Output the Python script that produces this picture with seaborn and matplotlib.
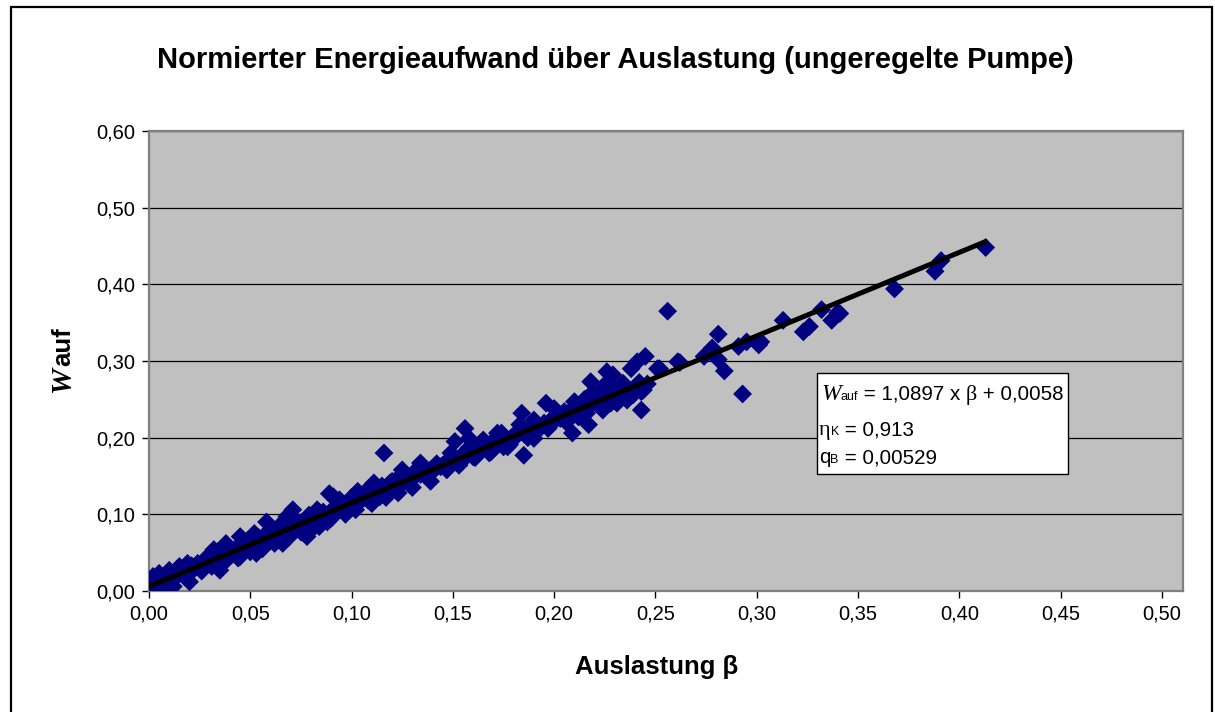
import numpy as np
import pandas as pd
import matplotlib
matplotlib.use("Agg")
import matplotlib.pyplot as plt
import seaborn as sns
from matplotlib.patches import Rectangle

# Messpunkte: Auslastung beta und normierter Energieaufwand W_auf
beta = [
    0.000, 0.002, 0.004, 0.005, 0.008, 0.010, 0.010, 0.012, 0.014, 0.015, 0.017, 0.019,
    0.020, 0.022, 0.024, 0.025, 0.027, 0.029, 0.030, 0.032, 0.033, 0.035, 0.036, 0.038,
    0.039, 0.041, 0.043, 0.045, 0.045, 0.047, 0.049, 0.052, 0.052, 0.053, 0.055, 0.057,
    0.058, 0.060, 0.061, 0.063, 0.065, 0.066, 0.067, 0.068, 0.070, 0.071, 0.072, 0.075,
    0.075, 0.077, 0.078, 0.080, 0.082, 0.083, 0.084, 0.085, 0.087, 0.089, 0.089, 0.090,
    0.091, 0.092, 0.093, 0.094, 0.096, 0.098, 0.099, 0.101, 0.103, 0.104, 0.104, 0.106,
    0.108, 0.109, 0.111, 0.111, 0.113, 0.114, 0.116, 0.116, 0.118, 0.119, 0.121, 0.122,
    0.124, 0.125, 0.126, 0.129, 0.129, 0.131, 0.132, 0.134, 0.134, 0.136, 0.139, 0.139,
    0.140, 0.141, 0.144, 0.145, 0.146, 0.149, 0.149, 0.151, 0.152, 0.154, 0.155, 0.156,
    0.157, 0.158, 0.160, 0.160, 0.162, 0.165, 0.165, 0.167, 0.168, 0.170, 0.172, 0.173,
    0.174, 0.175, 0.176, 0.177, 0.179, 0.181, 0.181, 0.183, 0.184, 0.185, 0.185, 0.188,
    0.190, 0.190, 0.192, 0.193, 0.195, 0.196, 0.198, 0.200, 0.201, 0.203, 0.204, 0.205,
    0.207, 0.209, 0.210, 0.211, 0.212, 0.214, 0.215, 0.217, 0.218, 0.218, 0.219, 0.221,
    0.222, 0.224, 0.225, 0.226, 0.227, 0.228, 0.229, 0.229, 0.231, 0.232, 0.234, 0.236,
    0.236, 0.238, 0.239, 0.240, 0.241, 0.243, 0.243, 0.245, 0.246, 0.251, 0.252, 0.256,
    0.261, 0.262, 0.274, 0.278, 0.281, 0.281, 0.284, 0.291, 0.293, 0.295, 0.301, 0.302,
    0.313, 0.323, 0.326, 0.332, 0.337, 0.340, 0.341, 0.368, 0.388, 0.391, 0.413,
    0.006, 0.013, 0.018, 0.021, 0.026, 0.028, 0.031, 0.034, 0.037, 0.040, 0.044, 0.046,
    0.050, 0.054, 0.056, 0.059, 0.062, 0.064, 0.069, 0.073, 0.076, 0.079, 0.081, 0.086,
    0.088, 0.095, 0.097, 0.100, 0.102, 0.107, 0.110, 0.115, 0.117, 0.120, 0.123, 0.127,
    0.130, 0.133, 0.137, 0.142, 0.147, 0.150, 0.153, 0.158, 0.161, 0.164, 0.169, 0.171,
    0.178, 0.182, 0.187, 0.191, 0.197, 0.202, 0.206, 0.213, 0.216, 0.223, 0.230, 0.235,
    0.242, 0.244,
]
w_auf = [
    0.004, 0.019, 0.010, 0.023, 0.012, 0.019, 0.027, 0.006, 0.020, 0.032, 0.026, 0.036,
    0.012, 0.028, 0.036, 0.032, 0.034, 0.045, 0.040, 0.054, 0.044, 0.027, 0.041, 0.062,
    0.050, 0.048, 0.056, 0.071, 0.045, 0.053, 0.060, 0.060, 0.075, 0.049, 0.066, 0.062,
    0.090, 0.071, 0.067, 0.073, 0.078, 0.062, 0.074, 0.097, 0.083, 0.106, 0.080, 0.089,
    0.077, 0.085, 0.071, 0.093, 0.091, 0.106, 0.084, 0.100, 0.095, 0.127, 0.093, 0.095,
    0.123, 0.110, 0.105, 0.119, 0.109, 0.112, 0.108, 0.115, 0.130, 0.117, 0.119, 0.121,
    0.119, 0.127, 0.127, 0.141, 0.124, 0.123, 0.132, 0.180, 0.130, 0.141, 0.138, 0.145,
    0.140, 0.158, 0.143, 0.146, 0.138, 0.149, 0.158, 0.152, 0.167, 0.155, 0.158, 0.143,
    0.156, 0.160, 0.162, 0.164, 0.166, 0.170, 0.180, 0.195, 0.171, 0.176, 0.171, 0.212,
    0.178, 0.199, 0.182, 0.175, 0.184, 0.186, 0.197, 0.190, 0.180, 0.192, 0.206, 0.195,
    0.206, 0.188, 0.197, 0.188, 0.200, 0.203, 0.201, 0.217, 0.232, 0.206, 0.177, 0.210,
    0.223, 0.199, 0.214, 0.212, 0.219, 0.245, 0.222, 0.238, 0.224, 0.225, 0.228, 0.234,
    0.232, 0.206, 0.247, 0.236, 0.227, 0.239, 0.250, 0.217, 0.243, 0.273, 0.259, 0.246,
    0.258, 0.236, 0.269, 0.286, 0.252, 0.245, 0.262, 0.282, 0.245, 0.256, 0.271, 0.262,
    0.249, 0.290, 0.256, 0.265, 0.299, 0.260, 0.236, 0.306, 0.270, 0.290, 0.290, 0.365,
    0.299, 0.298, 0.306, 0.317, 0.335, 0.302, 0.287, 0.319, 0.257, 0.325, 0.321, 0.325,
    0.353, 0.338, 0.345, 0.367, 0.353, 0.363, 0.362, 0.394, 0.417, 0.431, 0.448,
    0.004, 0.022, 0.018, 0.033, 0.026, 0.040, 0.032, 0.048, 0.037, 0.056, 0.043, 0.062,
    0.051, 0.070, 0.055, 0.078, 0.062, 0.084, 0.070, 0.091, 0.076, 0.099, 0.082, 0.103,
    0.090, 0.116, 0.100, 0.122, 0.106, 0.130, 0.114, 0.137, 0.122, 0.143, 0.128, 0.150,
    0.135, 0.157, 0.150, 0.166, 0.158, 0.176, 0.164, 0.187, 0.174, 0.193, 0.182, 0.199,
    0.191, 0.208, 0.200, 0.218, 0.212, 0.229, 0.220, 0.244, 0.232, 0.250, 0.250, 0.259,
    0.272, 0.262,
]

# Trendlinie laut Beschriftung
slope = 1.0897
intercept = 0.0058
eta_k = "0,913"
q_b = "0,00529"

x_ticks = [0.00, 0.05, 0.10, 0.15, 0.20, 0.25, 0.30, 0.35, 0.40, 0.45, 0.50]
y_ticks = [0.00, 0.10, 0.20, 0.30, 0.40, 0.50, 0.60]

df = pd.DataFrame({"beta": beta, "w_auf": w_auf})

sns.set_style("white")
plt.rcParams["font.family"] = ["Liberation Sans", "DejaVu Sans"]
plt.rcParams["text.color"] = "black"
plt.rcParams["xtick.color"] = "black"
plt.rcParams["ytick.color"] = "black"

W, H = 1215, 712
fig = plt.figure(figsize=(W / 100, H / 100), dpi=100)
fig.patch.set_facecolor("white")

# Rahmen um das ganze Diagramm
fig.patches.append(Rectangle((11 / W, -0.05), (1212 - 11) / W, 1.05 - 7 / H,
                             transform=fig.transFigure, fill=False,
                             edgecolor="black", linewidth=1.6))

ax = fig.add_axes([149 / W, (H - 591) / H, (1183 - 149) / W, (591 - 131) / H])
ax.set_facecolor("#C0C0C0")

sns.scatterplot(data=df, x="beta", y="w_auf", marker="D", s=92, color="#000080",
                edgecolor="none", linewidth=0, ax=ax, zorder=3)

x_line = np.array([min(beta), max(beta)])
sns.lineplot(x=x_line, y=slope * x_line + intercept, color="black",
             linewidth=3.6, ax=ax, zorder=4)

ax.set_xlim(0, 0.5104)
ax.set_ylim(0, 0.6)
ax.set_xticks(x_ticks)
ax.set_yticks(y_ticks)
ax.set_xticklabels([f"{v:.2f}".replace(".", ",") for v in x_ticks])
ax.set_yticklabels([f"{v:.2f}".replace(".", ",") for v in y_ticks])
ax.tick_params(axis="both", direction="out", length=5, width=1, color="black",
               labelsize=14.5, pad=5)
ax.tick_params(bottom=True, left=True)
ax.yaxis.grid(True, color="black", linewidth=0.9)
ax.xaxis.grid(False)
ax.set_axisbelow(True)
for sp in ax.spines.values():
    sp.set_color("#808080")
    sp.set_linewidth(1.6)
ax.set_xlabel("")
ax.set_ylabel("")

fig.text(615 / W, 1 - 68 / H,
         "Normierter Energieaufwand über Auslastung (ungeregelte Pumpe)",
         ha="center", va="baseline", fontsize=21, fontweight="bold")
fig.text(657 / W, 1 - 674 / H, "Auslastung β", ha="center", va="baseline",
         fontsize=18.5, fontweight="bold")

# y-Beschriftung: W (Serif, kursiv) + "auf"
fig.text(70 / W, 1 - 392 / H, "W", rotation=90, rotation_mode="anchor",
         ha="left", va="baseline", fontsize=21, family="Liberation Serif",
         style="italic", fontweight="bold")
fig.text(70 / W, 1 - 366 / H, "auf", rotation=90, rotation_mode="anchor",
         ha="left", va="baseline", fontsize=18.5, fontweight="bold")

# Textfeld mit Gleichung
fig.patches.append(Rectangle((817 / W, 1 - 474 / H), (1068 - 817) / W, (474 - 373) / H,
                             transform=fig.transFigure, facecolor="white",
                             edgecolor="black", linewidth=1.0, zorder=5))

renderer = fig.canvas.get_renderer()


def text_run(x_px, base_px, parts):
    x = x_px / W
    for s, kw in parts:
        t = fig.text(x, 1 - base_px / H, s, ha="left", va="baseline", zorder=6, **kw)
        bb = t.get_window_extent(renderer)
        x = bb.x1 / fig.bbox.width


serif_it = dict(family="Liberation Serif", style="italic", fontsize=17)
serif = dict(family="Liberation Serif", fontsize=16)
small = dict(fontsize=9)
norm = dict(fontsize=14.8)

text_run(821, 400, [("W", serif_it), ("auf", small), (" = 1,0897 x ", norm),
                    ("β", serif), (" + 0,0058", norm)])
text_run(819, 435, [("η", serif), ("K", small), (f" = {eta_k}", norm)])
text_run(819, 463, [("q", norm), ("B", small), (f" = {q_b}", norm)])

fig.savefig("out.png", dpi=100)
